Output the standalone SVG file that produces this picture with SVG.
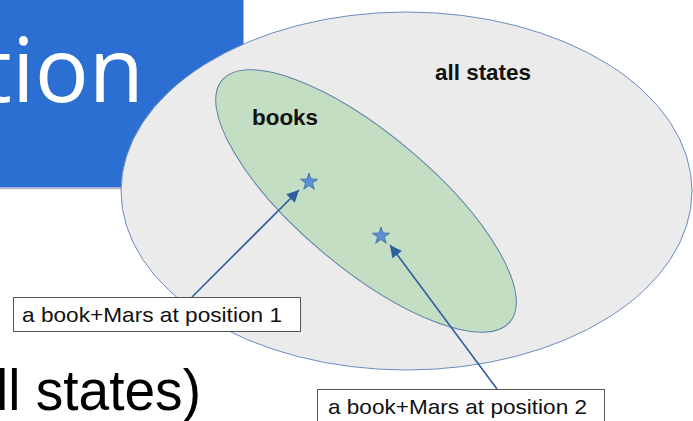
<svg xmlns="http://www.w3.org/2000/svg" width="693" height="421" viewBox="0 0 693 421">
  <style>
    .label { font-family: "Liberation Sans", Arial, sans-serif; font-size: 21px; fill: #111; }
    .bold { font-family: "Liberation Sans", Arial, sans-serif; font-size: 22px; font-weight: bold; fill: #111; }
    .box { fill: #ffffff; stroke: #555555; stroke-width: 1; }
    .conn { stroke: #2f5f9e; stroke-width: 1.6; fill: none; }
    .star { fill: #5b8fd6; stroke: #3e6aa8; stroke-width: 0.8; }
  </style>
  <defs>
    <marker id="arrow" viewBox="0 0 10 10" refX="10" refY="5" markerWidth="15" markerHeight="12" markerUnits="userSpaceOnUse" orient="auto">
      <path d="M0,0 L10,5 L0,10 z" fill="#2f5f9e"/>
    </marker>
    <polygon id="starShape" points="0,-9 2.12,-2.91 8.56,-2.78 3.42,1.11 5.29,7.28 0,3.6 -5.29,7.28 -3.42,1.11 -8.56,-2.78 -2.12,-2.91"/>
  </defs>

  <rect width="693" height="421" fill="#ffffff"/>

  <g id="title">
    <rect x="-2" y="-2" width="245" height="189" fill="#2b6fd2" stroke="#3b5fd8" stroke-width="1"/>
    <line x1="0" y1="188.5" x2="243" y2="188.5" stroke="#b8b8c0" stroke-width="1.5"/>
    <text x="144" y="102" text-anchor="end" font-family="'Open Sans', 'Noto Sans', sans-serif" font-size="90" fill="#ffffff">tion</text>
  </g>

  <g id="subtitle">
    <text x="-4" y="410" font-family="'Liberation Sans', Arial, sans-serif" font-size="57" fill="#000000" textLength="205" lengthAdjust="spacingAndGlyphs">ll states)</text>
  </g>

  <g id="all-states">
    <ellipse cx="406.5" cy="191" rx="285.5" ry="179" fill="#ebebeb" stroke="#6b8cc0" stroke-width="1"/>
    <text class="bold" x="435" y="80" textLength="96" lengthAdjust="spacingAndGlyphs">all states</text>
  </g>

  <g id="books">
    <ellipse cx="366" cy="201" rx="188" ry="67" transform="rotate(40 366 201)" fill="#c4dec4" stroke="#5a82a8" stroke-width="1"/>
    <text class="bold" x="252" y="125" textLength="66" lengthAdjust="spacingAndGlyphs">books</text>
  </g>

  <g id="star1">
    <use href="#starShape" class="star" transform="translate(309 182)"/>
  </g>
  <g id="star2">
    <use href="#starShape" class="star" transform="translate(381 236)"/>
  </g>

  <g id="connectors">
    <line class="conn" x1="192" y1="297" x2="299" y2="190" marker-end="url(#arrow)"/>
    <line class="conn" x1="497" y1="389" x2="390" y2="245" marker-end="url(#arrow)"/>
  </g>

  <g id="label1">
    <rect class="box" x="13.5" y="297.5" width="287" height="34"/>
    <text class="label" x="22" y="322" textLength="260" lengthAdjust="spacingAndGlyphs">a book+Mars at position 1</text>
  </g>

  <g id="label2">
    <rect class="box" x="317.5" y="389.5" width="287" height="40"/>
    <text class="label" x="328" y="414" textLength="259" lengthAdjust="spacingAndGlyphs">a book+Mars at position 2</text>
  </g>
</svg>
